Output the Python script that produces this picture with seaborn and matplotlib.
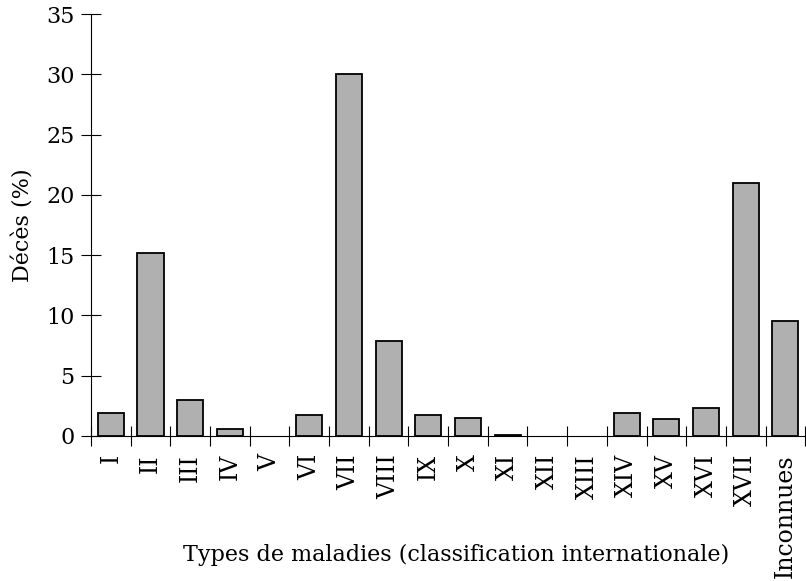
import numpy as np
import pandas as pd
import matplotlib
matplotlib.use("Agg")
import matplotlib.pyplot as plt
import seaborn as sns

categories = ["I", "II", "III", "IV", "V", "VI", "VII", "VIII", "IX", "X",
              "XI", "XII", "XIII", "XIV", "XV", "XVI", "XVII", "Inconnues"]
deces_pct = [1.9, 15.2, 3.0, 0.6, 0.0, 1.7, 30.0, 7.9, 1.7, 1.5,
             0.1, 0.0, 0.0, 1.9, 1.4, 2.3, 21.0, 9.5]

df = pd.DataFrame({"type": categories, "deces": deces_pct})

sns.set_style("white", {"axes.edgecolor": "black", "text.color": "black",
                        "axes.labelcolor": "black", "xtick.color": "black",
                        "ytick.color": "black"})
plt.rcParams['font.family'] = ['DejaVu Serif']

fig = plt.figure(figsize=(8.06, 5.81), dpi=100)
ax = fig.add_axes([0.113, 0.2496, 0.886, 0.7263])

sns.barplot(data=df, x="type", y="deces", color="#b0b0b0", width=0.66,
            edgecolor="black", linewidth=1.3, saturation=1, ax=ax)

# zero-height bars: no visible outline
for p, v in zip(ax.patches, deces_pct):
    if v == 0:
        p.set_linewidth(0)

ax.set_xlim(-0.5, len(categories) - 0.5)
ax.set_ylim(0, 35)
ax.set_yticks(np.arange(0, 36, 5))
ax.set_xticks(np.arange(len(categories) + 1) - 0.5, minor=True)
ax.tick_params(axis="x", which="major", bottom=True, length=0, pad=13,
               labelsize=17, rotation=90)
ax.tick_params(axis="x", which="minor", bottom=True, direction="inout",
               length=14, width=0.8)
ax.tick_params(axis="y", left=True, direction="inout", length=14, width=0.8,
               labelsize=16, pad=5)

for s in ["top", "right"]:
    ax.spines[s].set_visible(False)
for s in ["left", "bottom"]:
    ax.spines[s].set_linewidth(0.8)

ax.set_xlabel("Types de maladies (classification internationale)", fontsize=16)
ax.xaxis.set_label_coords(0.511, -0.255)
ax.set_ylabel("Décès (%)", fontsize=16, labelpad=8)

fig.savefig("out.png", dpi=100)
